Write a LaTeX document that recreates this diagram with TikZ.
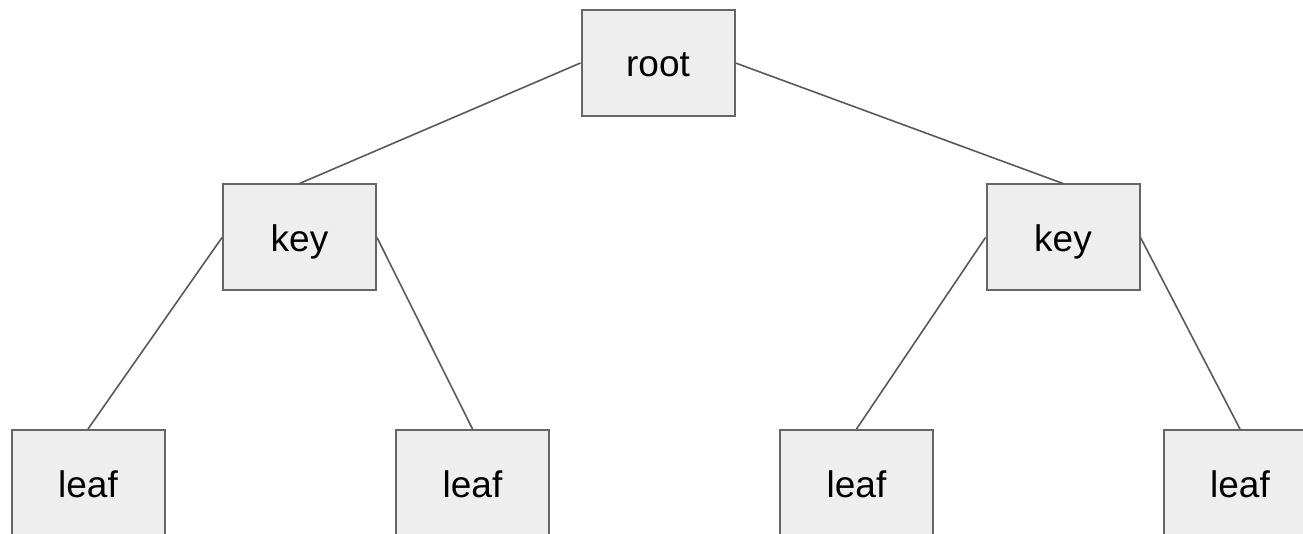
\documentclass[tikz,border=0pt]{standalone}
\usepackage{fontspec}
\setmainfont{Liberation Sans}
\definecolor{boxfill}{HTML}{EEEEEE}
\definecolor{boxline}{HTML}{666666}
\definecolor{conn}{HTML}{595959}
\begin{document}
\begin{tikzpicture}[x=1pt,y=-1pt,
  tbox/.style={draw=boxline, fill=boxfill, line width=2pt, minimum width=153pt, minimum height=106pt, inner sep=0pt, text height=28pt, text depth=0pt, font=\fontsize{37}{40}\selectfont},
  edge/.style={draw=conn, line width=1.6pt}]
\useasboundingbox (0,0) rectangle (1303,534);
\clip (0,0) rectangle (1303,534);
\node[tbox] (root) at (658,63) {root};
\node[tbox] (k1) at (299.5,237.5) {key};
\node[tbox] (k2) at (1063,237.5) {key};
\node[tbox] (l1) at (88,483) {leaf};
\node[tbox] (l2) at (472.5,483) {leaf};
\node[tbox] (l3) at (856.5,483) {leaf};
\node[tbox] (l4) at (1240,483) {leaf};
\draw[edge] (root.west) -- (k1.north);
\draw[edge] (root.east) -- (k2.north);
\draw[edge] (k1.west) -- (l1.north);
\draw[edge] (k1.east) -- (l2.north);
\draw[edge] (k2.west) -- (l3.north);
\draw[edge] (k2.east) -- (l4.north);
\end{tikzpicture}
\end{document}
